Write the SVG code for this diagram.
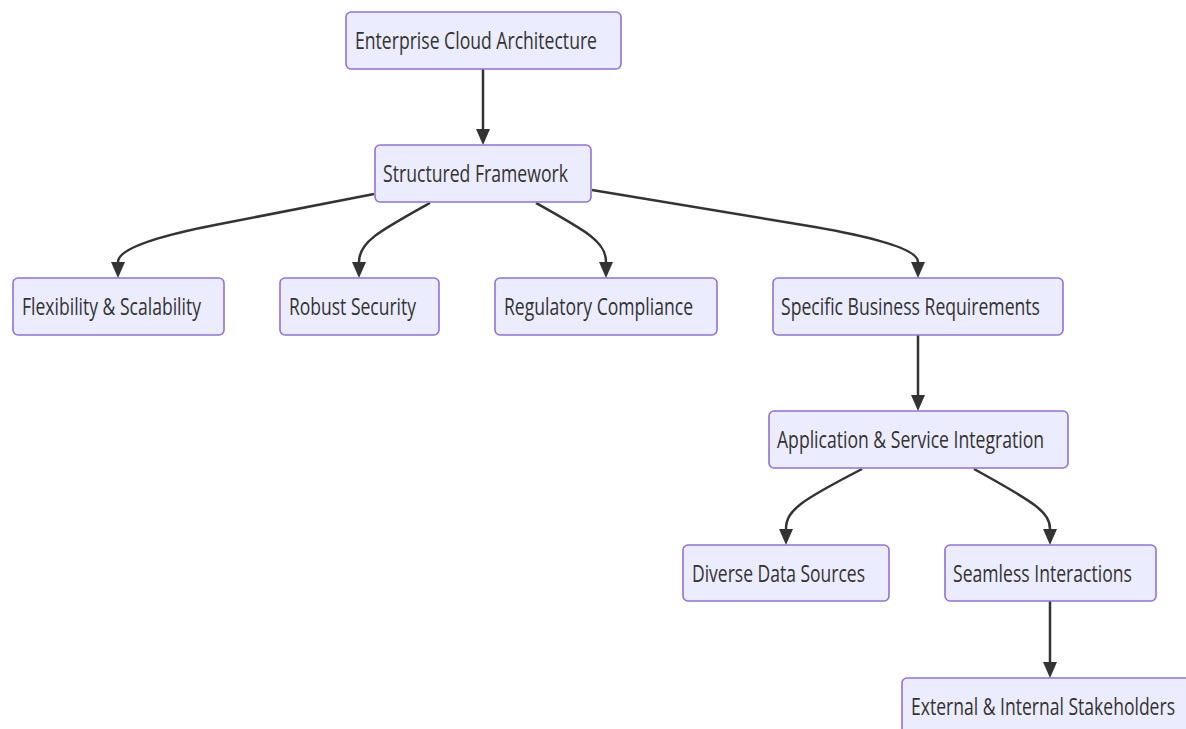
<svg xmlns="http://www.w3.org/2000/svg" width="1186" height="729" viewBox="0 0 1186 729">
  <style>
    .node rect { fill: #ECECFF; stroke: #9370DB; stroke-width: 1.6; }
    .node text { font-family: "Open Sans", "Liberation Sans", sans-serif; font-size: 23px; fill: #333; }
    .edge { fill: none; stroke: #333; stroke-width: 2.5; }
  </style>
  <defs>
    <marker id="arrow" viewBox="0 0 16 14" refX="0" refY="7" markerWidth="16" markerHeight="14" markerUnits="userSpaceOnUse" orient="auto">
      <path d="M0,0 L16,7 L0,14 Z" fill="#333"/>
    </marker>
  </defs>
  <rect width="1186" height="729" fill="#fff"/>

  <g id="connectors">
    <path class="edge" marker-end="url(#arrow)" d="M483,69 L483,129"/>
    <path class="edge" marker-end="url(#arrow)" d="M374,194 L215,225 Q118,244 118,262"/>
    <path class="edge" marker-end="url(#arrow)" d="M430,203 C378,232 359,242 359,262"/>
    <path class="edge" marker-end="url(#arrow)" d="M536,203 C588,232 606,242 606,262"/>
    <path class="edge" marker-end="url(#arrow)" d="M592,190 L815,227 Q918,245 918,262"/>
    <path class="edge" marker-end="url(#arrow)" d="M918,335 L918,395"/>
    <path class="edge" marker-end="url(#arrow)" d="M862,469 C802,500 786,510 786,529"/>
    <path class="edge" marker-end="url(#arrow)" d="M974,469 C1034,502 1050,512 1050,529"/>
    <path class="edge" marker-end="url(#arrow)" d="M1050,601 L1050,662"/>
  </g>

  <g id="enterprise" class="node">
    <rect x="346" y="12" width="275" height="57" rx="5"/>
    <text x="355" y="49" textLength="242" lengthAdjust="spacingAndGlyphs">Enterprise Cloud Architecture</text>
  </g>
  <g id="framework" class="node">
    <rect x="375" y="145" width="216" height="57" rx="5"/>
    <text x="383" y="182" textLength="185" lengthAdjust="spacingAndGlyphs">Structured Framework</text>
  </g>
  <g id="flexibility" class="node">
    <rect x="13" y="278" width="211" height="57" rx="5"/>
    <text x="22" y="315" textLength="179" lengthAdjust="spacingAndGlyphs">Flexibility &amp; Scalability</text>
  </g>
  <g id="security" class="node">
    <rect x="280" y="278" width="159" height="57" rx="5"/>
    <text x="289" y="315" textLength="127" lengthAdjust="spacingAndGlyphs">Robust Security</text>
  </g>
  <g id="compliance" class="node">
    <rect x="495" y="278" width="222" height="57" rx="5"/>
    <text x="504" y="315" textLength="189" lengthAdjust="spacingAndGlyphs">Regulatory Compliance</text>
  </g>
  <g id="requirements" class="node">
    <rect x="773" y="278" width="290" height="57" rx="5"/>
    <text x="781" y="315" textLength="259" lengthAdjust="spacingAndGlyphs">Specific Business Requirements</text>
  </g>
  <g id="integration" class="node">
    <rect x="769" y="411" width="299" height="57" rx="5"/>
    <text x="777" y="448" textLength="267" lengthAdjust="spacingAndGlyphs">Application &amp; Service Integration</text>
  </g>
  <g id="datasources" class="node">
    <rect x="683" y="545" width="206" height="56" rx="5"/>
    <text x="692" y="582" textLength="173" lengthAdjust="spacingAndGlyphs">Diverse Data Sources</text>
  </g>
  <g id="interactions" class="node">
    <rect x="945" y="545" width="211" height="56" rx="5"/>
    <text x="953" y="582" textLength="179" lengthAdjust="spacingAndGlyphs">Seamless Interactions</text>
  </g>
  <g id="stakeholders" class="node">
    <rect x="902" y="678" width="296" height="57" rx="5"/>
    <text x="911" y="715" textLength="264" lengthAdjust="spacingAndGlyphs">External &amp; Internal Stakeholders</text>
  </g>
</svg>
